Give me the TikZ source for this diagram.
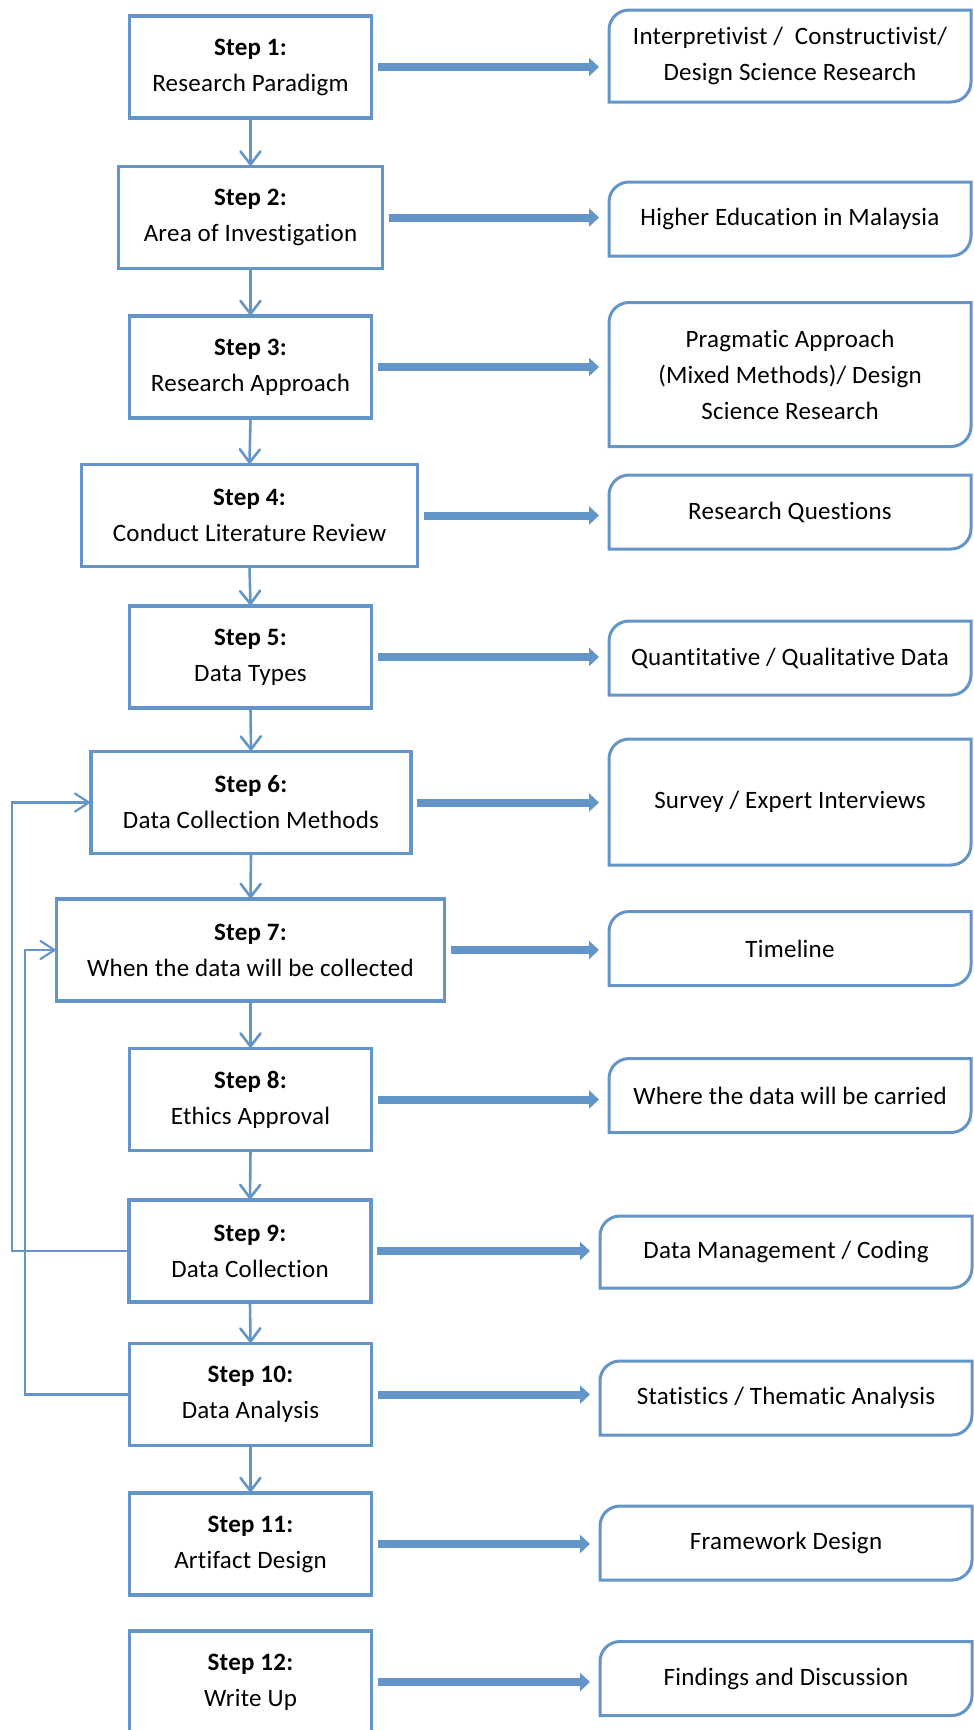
\documentclass[tikz,border=0pt]{standalone}
\usepackage{fontspec}
\setmainfont{Carlito}[Ligatures=NoCommon, LetterSpace=1]
\usetikzlibrary{arrows.meta,calc}

\definecolor{flowblue}{RGB}{100,149,200}

% corner radius of the outcome boxes
\newcommand\crad{10pt}

% outcome box outline: rounded top-left and bottom-right corners
\newcommand\outcomebox[1]{%
  \draw[outline] (#1.south west) -- ([yshift=-\crad]#1.north west)
    arc[start angle=180,end angle=90,radius=\crad]
    -- (#1.north east) -- ([yshift=\crad]#1.south east)
    arc[start angle=0,end angle=-90,radius=\crad] -- cycle;}

\tikzset{
  stepbox/.style={draw=flowblue, line width=1.8pt, fill=white, rectangle,
    minimum width=121pt, minimum height=51pt, inner sep=0pt, outer sep=0pt,
    align=center, font=\fontsize{12.5}{18}\selectfont},
  outcome/.style={rectangle, minimum width=181pt, inner sep=0pt, outer sep=0pt,
    align=center, font=\fontsize{12.5}{18}\selectfont},
  outline/.style={draw=flowblue, line width=1.5pt},
  flow/.style={draw=flowblue, line width=1.3pt,
    -{Straight Barb[length=6.5pt,width=10pt,line cap=round]}},
  feed/.style={draw=flowblue, line width=1.1pt,
    -{Straight Barb[length=7pt,width=9pt,line cap=round]}},
  push/.style={draw=flowblue, line width=4pt,
    -{Triangle[length=5pt,width=9pt]}, shorten <=3pt, shorten >=5pt},
}

\begin{document}
\begin{tikzpicture}[x=0.5pt,y=0.5pt]
\useasboundingbox (0,0) rectangle (974,-1730);

% research steps
\node[stepbox] (s1) at (250.5,-67) {\textbf{Step 1:}\\Research Paradigm};
\node[stepbox, minimum width=132pt] (s2) at (250.5,-217.5) {\textbf{Step 2:}\\Area of Investigation};
\node[stepbox] (s3) at (250.5,-367) {\textbf{Step 3:}\\Research Approach};
\node[stepbox, minimum width=168pt] (s4) at (249.5,-515.5) {\textbf{Step 4:}\\Conduct Literature Review};
\node[stepbox] (s5) at (250.5,-657) {\textbf{Step 5:}\\Data Types};
\node[stepbox, minimum width=160pt] (s6) at (251,-802.5) {\textbf{Step 6:}\\Data Collection Methods};
\node[stepbox, minimum width=194pt] (s7) at (250.5,-950) {\textbf{Step 7:}\\When the data will be collected};
\node[stepbox] (s8) at (250.5,-1099.5) {\textbf{Step 8:}\\Ethics Approval};
\node[stepbox] (s9) at (250,-1251) {\textbf{Step 9:}\\Data Collection};
\node[stepbox] (s10) at (250.5,-1394.5) {\textbf{Step 10:}\\Data Analysis};
\node[stepbox] (s11) at (250.5,-1544) {\textbf{Step 11:}\\Artifact Design};
\node[stepbox] (s12) at (250.5,-1682) {\textbf{Step 12:}\\Write Up};

% outcomes
\node[outcome, minimum height=46pt] (r1) at (790,-56) {Interpretivist /\ \ Constructivist/\\Design Science Research};
\node[outcome, minimum height=37pt] (r2) at (790,-219) {Higher Education in Malaysia};
\node[outcome, minimum height=72pt] (r3) at (790,-374.5) {Pragmatic Approach\\(Mixed Methods)/ Design\\Science Research};
\node[outcome, minimum height=37pt] (r4) at (790,-512) {Research Questions};
\node[outcome, minimum height=37pt] (r5) at (790,-658) {Quantitative / Qualitative Data};
\node[outcome, minimum height=63pt] (r6) at (790,-802) {Survey / Expert Interviews};
\node[outcome, minimum height=37pt] (r7) at (790,-948.5) {Timeline};
\node[outcome, minimum height=37pt] (r8) at (790,-1095.5) {Where the data will be carried};
\node[outcome, minimum height=36pt, minimum width=186pt] (r9) at (786,-1252) {Data Management / Coding};
\node[outcome, minimum height=37pt, minimum width=186pt] (r10) at (786,-1398) {Statistics / Thematic Analysis};
\node[outcome, minimum height=37pt, minimum width=186pt] (r11) at (786,-1543) {Framework Design};
\node[outcome, minimum height=37pt, minimum width=186pt] (r12) at (786,-1678.5) {Findings and Discussion};

\foreach \r in {r1,r2,r3,r4,r5,r6,r7,r8,r9,r10,r11,r12} {\outcomebox{\r}}

% step sequence
\foreach \a/\b in {s1/s2,s2/s3,s3/s4,s4/s5,s5/s6,s6/s7,s7/s8,s8/s9,s9/s10,s10/s11}
  \draw[flow] (\a.south) -- (\b.north);

% step to outcome
\foreach \i in {1,...,12}
  \draw[push] (s\i.east) -- (s\i.east -| r\i.west);

% feedback loops
\coordinate (fa) at (12,0);
\coordinate (fb) at (25,0);
\draw[feed] (s9.west) -- (s9.west -| fa) -- (s6.west -| fa) -- (s6.west);
\draw[feed] (s10.west) -- (s10.west -| fb) -- (s7.west -| fb) -- (s7.west);
\end{tikzpicture}
\end{document}
